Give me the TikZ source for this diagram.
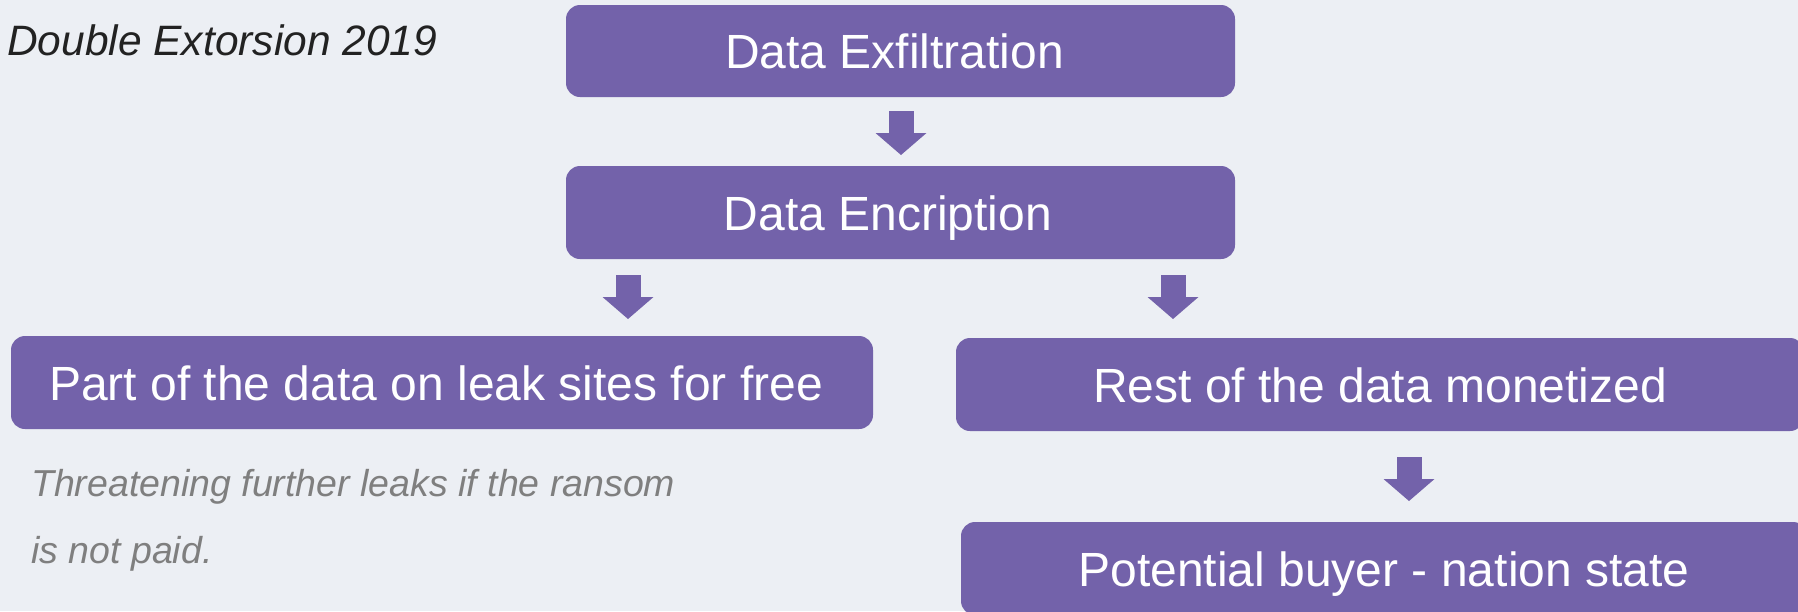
\documentclass[tikz,border=0pt]{standalone}
\usepackage{fontspec}
\setmainfont{Liberation Sans}
\usetikzlibrary{arrows.meta}
\definecolor{bg}{HTML}{ECEFF4}
\definecolor{boxpurple}{HTML}{7362AA}
\definecolor{titleink}{HTML}{222222}
\definecolor{noteink}{HTML}{7F7F7F}
\tikzset{
  stagebox/.style={fill=boxpurple, draw=none, rounded corners=14pt, text=white,
    font=\fontsize{48}{58}\selectfont, inner sep=0pt, text height=35pt, text depth=0pt},
  flowarrow/.style={draw=boxpurple, line width=25pt, line cap=butt,
    -{Triangle[width=51pt,length=22pt,line width=0pt]}},
}
\begin{document}
\begin{tikzpicture}[x=1pt,y=-1pt]
  \useasboundingbox (0,0) rectangle (1798,611);
  \clip (0,0) rectangle (1798,611);
  \fill[bg] (0,0) rectangle (1798,611);

  % title
  \node[anchor=base west, inner sep=0pt, text=titleink,
        font=\fontsize{42.5}{50}\selectfont\itshape] (title) at (7,55) {Double Extorsion 2019};

  % stages
  \node[stagebox, minimum width=669pt, minimum height=92pt] (exfil) at (900.5,51) {Data Exfiltration\hspace*{12pt}};
  \node[stagebox, minimum width=669pt, minimum height=93pt] (encr) at (900.5,212.5) {Data Encription\hspace*{25pt}};
  \node[stagebox, minimum width=862pt, minimum height=93pt] (leak) at (442,382.5) {Part of the data on leak sites for free\hspace*{12pt}};
  \node[stagebox, minimum width=848pt, minimum height=93pt] (monet) at (1380,384.5) {Rest of the data monetized};
  \node[stagebox, minimum width=846pt, minimum height=93pt] (buyer) at (1384,568.5) {Potential buyer - nation state};

  % note under the leak box (anchored on its last line)
  \node[anchor=base west, inner sep=0pt, text=noteink, align=left,
        font=\fontsize{37.5}{67}\selectfont\itshape] (note) at (31,563)
        {Threatening further leaks if the ransom\\is not paid.};

  % arrow end points
  \coordinate (a1s) at (901,111);   \coordinate (a1e) at (901,155);
  \coordinate (a2s) at (628,275);   \coordinate (a2e) at (628,319);
  \coordinate (a3s) at (1173,275);  \coordinate (a3e) at (1173,319);
  \coordinate (a4s) at (1409,457);  \coordinate (a4e) at (1409,501);

  \draw[flowarrow] (a1s) -- (a1e);
  \draw[flowarrow] (a2s) -- (a2e);
  \draw[flowarrow] (a3s) -- (a3e);
  \draw[flowarrow] (a4s) -- (a4e);
\end{tikzpicture}
\end{document}
